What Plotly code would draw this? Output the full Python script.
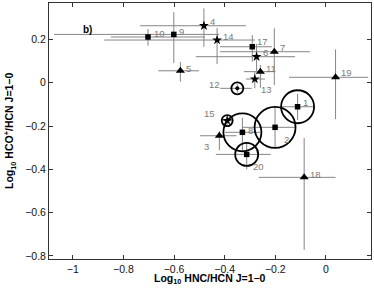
import plotly.graph_objects as go

# ---- data ----
ids = ["1", "2", "3", "4", "5", "6", "7", "8", "9", "10",
       "11", "12", "13", "14", "15", "17", "18", "19", "20"]
hnc_hcn = [-0.112, -0.201, -0.421, -0.482, -0.575, -0.274, -0.204, -0.330, -0.601, -0.703,
           -0.259, -0.350, -0.281, -0.430, -0.390, -0.291, -0.086, 0.038, -0.313]
hco_hcn = [-0.111, -0.206, -0.245, 0.263, 0.055, 0.120, 0.143, -0.229, 0.223, 0.211,
           0.051, -0.026, 0.017, 0.197, -0.175, 0.166, -0.437, 0.025, -0.331]
x_low = [-0.175, -0.328, -0.497, -0.734, -0.662, -0.514, -0.418, -0.399, -1.074, -0.850,
         -0.324, -0.418, -0.316, -0.876, -0.410, -0.418, -0.265, -0.146, -0.435]
x_high = [-0.050, -0.122, -0.353, -0.316, -0.501, -0.122, -0.063, -0.261, -0.422, -0.478,
          -0.201, -0.293, -0.241, -0.280, -0.370, -0.214, 0.038, 0.167, -0.218]
y_low = [-0.172, -0.300, -0.311, 0.166, 0.005, 0.054, -0.011, -0.318, 0.091, 0.171,
         -0.024, -0.045, -0.026, 0.086, -0.195, 0.097, -0.772, -0.168, -0.400]
y_high = [-0.052, -0.117, -0.223, 0.343, 0.096, 0.179, 0.251, -0.162, 0.326, 0.248,
          0.082, -0.007, 0.051, 0.252, -0.155, 0.220, -0.255, 0.154, -0.278]
kind = ["sq", "sq", "tri", "star", "tri", "star", "tri", "sq", "sq", "sq",
        "tri", "dot", "star", "star", "star", "sq", "tri", "tri", "sq"]
circle_d = [33, 41, 0, 0, 0, 0, 0, 38, 0, 0, 0, 12, 0, 0, 11, 0, 0, 0, 23]
x_ticks = [-1, -0.8, -0.6, -0.4, -0.2, 0]
y_ticks = [-0.8, -0.6, -0.4, -0.2, 0, 0.2]

# ---- label placement (pixel offsets, style) ----
lab_dx = {"1": 3, "2": 7, "3": -8, "4": 4, "5": 4, "6": 4, "7": 4, "8": 4, "9": 3, "10": 4,
          "11": 4, "12": -15, "13": 4, "14": 4, "15": -10, "17": 3, "18": 4, "19": 3, "20": 4}
lab_dy = {"1": -4, "2": 12, "3": 11, "4": -4, "5": -2, "6": -4, "7": -4, "8": -2, "9": -3, "10": -4,
          "11": -3, "12": -4, "13": 10, "14": -4, "15": -7, "17": -5, "18": -3, "19": -5, "20": 12}

GRAY = "#858585"
FONT = "Liberation Sans, Arial, sans-serif"

fig = go.Figure()

# error bars
fig.add_trace(go.Scatter(
    x=hnc_hcn, y=hco_hcn, mode="markers",
    marker=dict(size=1, color="rgba(0,0,0,0)"),
    error_x=dict(type="data", symmetric=False,
                 array=[h - v for h, v in zip(x_high, hnc_hcn)],
                 arrayminus=[v - l for l, v in zip(x_low, hnc_hcn)],
                 color=GRAY, thickness=1, width=0),
    error_y=dict(type="data", symmetric=False,
                 array=[h - v for h, v in zip(y_high, hco_hcn)],
                 arrayminus=[v - l for l, v in zip(y_low, hco_hcn)],
                 color=GRAY, thickness=1, width=0),
    hoverinfo="skip", showlegend=False))

# circles
cx = [x for x, d in zip(hnc_hcn, circle_d) if d > 0]
cy = [y for y, d in zip(hco_hcn, circle_d) if d > 0]
cd = [d for d in circle_d if d > 0]
fig.add_trace(go.Scatter(
    x=cx, y=cy, mode="markers", opacity=1,
    marker=dict(symbol="circle-open", size=cd, color="#000000", opacity=1,
                line=dict(width=1.8, color="#000000")),
    showlegend=False))

styles = {
    "sq": dict(symbol="square", size=5.5),
    "tri": dict(symbol="triangle-up", size=8),
    "star": dict(symbol="star", size=7.5),
    "dot": dict(symbol="circle", size=4),
}
for k, st in styles.items():
    xs = [x for x, kk in zip(hnc_hcn, kind) if kk == k]
    ys = [y for y, kk in zip(hco_hcn, kind) if kk == k]
    fig.add_trace(go.Scatter(
        x=xs, y=ys, mode="markers", opacity=1,
        marker=dict(symbol=st["symbol"], size=st["size"], color="black", line=dict(width=0)),
        showlegend=False))

# point labels
for pid, x, y in zip(ids, hnc_hcn, hco_hcn):
    dx = lab_dx[pid]
    fig.add_annotation(x=x, y=y, xref="x", yref="y", text=pid, showarrow=False,
                       xanchor="left" if dx >= 0 else "right", yanchor="middle",
                       xshift=dx, yshift=-lab_dy[pid],
                       font=dict(family=FONT, size=9.5, color="#7a7a7a"))

fig.add_annotation(x=0.121, y=0.895, xref="paper", yref="paper", text="<b>b)</b>", showarrow=False,
                   xanchor="center", yanchor="middle", font=dict(family=FONT, size=10, color="black"))

# axis titles
fig.add_annotation(x=0.5, y=0, xref="paper", yref="paper",
                   text="<b>Log<sub>10</sub> HNC/HCN J=1\u22120</b>", showarrow=False,
                   xanchor="center", yanchor="top", yshift=-11,
                   font=dict(family=FONT, size=10.5, color="black"))
fig.add_annotation(x=0, y=0.5, xref="paper", yref="paper",
                   text="<b>Log<sub>10</sub> HCO<sup>+</sup>/HCN J=1\u22120</b>", showarrow=False,
                   textangle=-90, xanchor="right", yanchor="middle", xshift=-29,
                   font=dict(family=FONT, size=10.5, color="black"))

axis_common = dict(showgrid=False, zeroline=False, showline=True, linecolor="#333333", linewidth=1,
                   mirror="allticks", ticks="inside", ticklen=4, tickcolor="#333333",
                   tickfont=dict(family=FONT, size=10.5, color="#111111"))
fig.update_xaxes(range=[-1.094, 0.178], tickvals=x_ticks,
                 ticktext=[("\u2212" if v < 0 else "") + ("%g" % abs(v)) for v in x_ticks], **axis_common)
fig.update_yaxes(range=[-0.814, 0.368], tickvals=y_ticks,
                 ticktext=[("\u2212" if v < 0 else "") + ("%g" % abs(v)) for v in y_ticks], **axis_common)

fig.update_layout(width=374, height=291, margin=dict(l=49, r=3, t=3, b=32),
                  plot_bgcolor="white", paper_bgcolor="white")

fig.write_html("out.html", config={"displayModeBar": False},
               post_script="document.body.style.margin='0';document.body.style.overflow='hidden';")
